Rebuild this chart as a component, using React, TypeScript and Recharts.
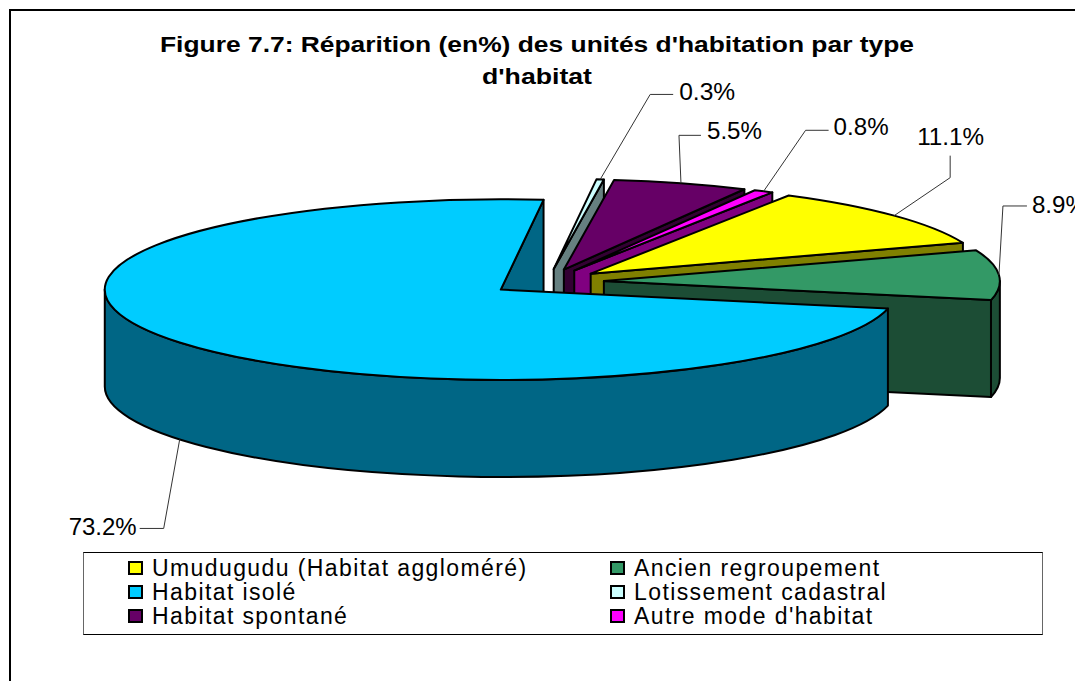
import { Legend, Pie, PieChart, Cell } from "recharts";

const FONT = '"Liberation Sans", Arial, sans-serif';

// legend order, as in the source chart
const categories = [
  "Umudugudu (Habitat aggloméré)",
  "Ancien regroupement",
  "Habitat isolé",
  "Lotissement cadastral",
  "Habitat spontané",
  "Autre mode d'habitat",
];
const shares = [11.1, 8.9, 73.2, 0.3, 5.5, 0.8];
const topColors = ["#ffff00", "#339966", "#00ccff", "#ccffff", "#660066", "#ff00ff"];
const wallColors = ["#808000", "#1c4d35", "#006685", "#668080", "#330033", "#800080"];

// slices are painted back to front, so the pie starts at Lotissement
const paintOrder = [3, 4, 5, 0, 1, 2];
const rows = paintOrder.map((i) => ({
  name: categories[i],
  value: shares[i],
  top: topColors[i],
  wall: wallColors[i],
}));

const CX = 547;
const CY = 282;
const RX = 396;
const TILT = 0.228;
const DEPTH = 97;
const EXPLODE = 57;
const FIRST_ANGLE = 6.2;

// leader elbows and text anchors, relative to the point on the rim
const labelLayout: Record<string, { elbow: [number, number]; end: [number, number]; text: [number, number]; anchor: "start" | "end" | "middle"; width: number }> = {
  "Lotissement cadastral": { elbow: [50, -85], end: [73, -85], text: [79, -79], anchor: "start", width: 56 },
  "Habitat spontané": { elbow: [-2, -48], end: [20, -48], text: [26, -44], anchor: "start", width: 55 },
  "Autre mode d'habitat": { elbow: [42, -61], end: [65, -61], text: [70, -56], anchor: "start", width: 55 },
  "Umudugudu (Habitat aggloméré)": { elbow: [56, -38], end: [56, -60], text: [23, -71], anchor: "start", width: 67 },
  "Ancien regroupement": { elbow: [4, -69], end: [28, -69], text: [33, -62], anchor: "start", width: 55 },
  "Habitat isolé": { elbow: [-16, 89], end: [-40, 89], text: [-43, 96], anchor: "end", width: 68 },
};

const rad = (a: number) => (a * Math.PI) / 180;

// clockwise degrees from the top; each slice moves out along its own mid angle
function centerOf(mid: number) {
  return {
    x: CX + EXPLODE * Math.sin(rad(mid)),
    y: CY - EXPLODE * TILT * Math.cos(rad(mid)),
  };
}

function rimPoint(c: { x: number; y: number }, a: number, drop = 0) {
  return {
    x: c.x + RX * Math.sin(rad(a)),
    y: c.y - RX * TILT * Math.cos(rad(a)) + drop,
  };
}

function Slice3D(props: any) {
  const from = 90 - props.startAngle;
  const to = 90 - props.endAngle;
  const mid = (from + to) / 2;
  const c = centerOf(mid);
  const ry = RX * TILT;
  const large = to - from > 180 ? 1 : 0;
  const a = rimPoint(c, from);
  const b = rimPoint(c, to);
  const wall = props.payload.wall ?? props.wall;
  const top = props.payload.top ?? props.top;
  const line = { stroke: "#000", strokeWidth: 2, strokeLinejoin: "round" as const };

  const face = (p: { x: number; y: number }) =>
    `M${c.x},${c.y} L${p.x},${p.y} L${p.x},${p.y + DEPTH} L${c.x},${c.y + DEPTH} Z`;

  const wallFrom = Math.max(from, 90);
  const wallTo = Math.min(to, 270);
  let wallPath = "";
  if (wallTo > wallFrom) {
    const p = rimPoint(c, wallFrom);
    const q = rimPoint(c, wallTo);
    const big = wallTo - wallFrom > 180 ? 1 : 0;
    wallPath = `M${p.x},${p.y} A${RX},${ry} 0 ${big} 1 ${q.x},${q.y} L${q.x},${q.y + DEPTH} A${RX},${ry} 0 ${big} 0 ${p.x},${p.y + DEPTH} Z`;
  }

  return (
    <g>
      {to % 360 < 180 ? <path d={face(b)} fill={wall} {...line} /> : null}
      {wallPath ? <path d={wallPath} fill={wall} {...line} /> : null}
      <path
        d={`M${c.x},${c.y} L${a.x},${a.y} A${RX},${ry} 0 ${large} 1 ${b.x},${b.y} Z`}
        fill={top}
        {...line}
      />
    </g>
  );
}

function SliceLabel(props: any) {
  const name = props.payload?.name ?? props.name;
  const value = props.payload?.value ?? props.value;
  const layout = labelLayout[name];
  if (!layout) return null;
  const mid = 90 - props.midAngle;
  const c = centerOf(mid);
  const front = mid > 90 && mid < 270;
  const p = rimPoint(c, mid, front ? DEPTH : 0);
  return (
    <g>
      <polyline
        points={`${p.x},${p.y} ${p.x + layout.elbow[0]},${p.y + layout.elbow[1]} ${p.x + layout.end[0]},${p.y + layout.end[1]}`}
        fill="none"
        stroke="#333"
        strokeWidth={1}
      />
      <text
        x={p.x + layout.text[0]}
        y={p.y + layout.text[1]}
        textAnchor={layout.anchor}
        fontFamily={FONT}
        fontSize={23}
        fill="#000"
        textLength={layout.width}
        lengthAdjust="spacingAndGlyphs"
      >
        {value}%
      </text>
    </g>
  );
}

function LegendBox() {
  return (
    <div
      style={{
        boxSizing: "border-box",
        width: 960,
        height: 83,
        borderStyle: "solid",
        borderWidth: 1.5,
        borderColor: "#000 #666 #000 #666",
        background: "#fff",
        display: "grid",
        gridTemplateColumns: "482px 1fr",
        gridAutoRows: "24px",
        paddingLeft: 44,
        paddingTop: 3,
        fontFamily: FONT,
        fontSize: 23,
        letterSpacing: 1.4,
        lineHeight: "24px",
        color: "#000",
      }}
    >
      {categories.map((name, i) => (
        <div key={name} style={{ display: "flex", alignItems: "center", whiteSpace: "nowrap" }}>
          <span
            style={{
              boxSizing: "border-box",
              width: 15,
              height: 14,
              marginRight: 9,
              border: "2px solid #000",
              background: topColors[i],
            }}
          />
          {name}
        </div>
      ))}
    </div>
  );
}

export default function App() {
  return (
    <div style={{ position: "fixed", left: 0, top: 0, width: 1075, height: 681, overflow: "hidden", background: "#fff" }}>
      <div style={{ position: "absolute", left: 9, top: 9, width: 1100, height: 700, borderLeft: "2px solid #000", borderTop: "2px solid #000" }} />
      <PieChart width={1075} height={681} style={{ position: "absolute", left: 0, top: 0 }} margin={{ top: 0, right: 0, bottom: 0, left: 0 }}>
        <text x={537} y={52} textAnchor="middle" fontFamily={FONT} fontSize={22} fontWeight="bold" fill="#000" textLength={754} lengthAdjust="spacingAndGlyphs">
          Figure 7.7: Réparition (en%) des unités d'habitation par type
        </text>
        <text x={537} y={84} textAnchor="middle" fontFamily={FONT} fontSize={22} fontWeight="bold" fill="#000" textLength={110} lengthAdjust="spacingAndGlyphs">
          d'habitat
        </text>
        <Pie
          data={rows}
          dataKey="value"
          nameKey="name"
          cx={CX}
          cy={CY}
          innerRadius={0}
          outerRadius={RX}
          startAngle={90 - FIRST_ANGLE}
          endAngle={90 - FIRST_ANGLE - 360}
          paddingAngle={0}
          shape={Slice3D}
          label={SliceLabel}
          labelLine={false}
          isAnimationActive={false}
        >
          {rows.map((r) => (
            <Cell key={r.name} fill={r.top} />
          ))}
        </Pie>
        <Legend content={LegendBox} wrapperStyle={{ position: "absolute", left: 83, top: 552, width: 960, height: 83 }} />
      </PieChart>
    </div>
  );
}
